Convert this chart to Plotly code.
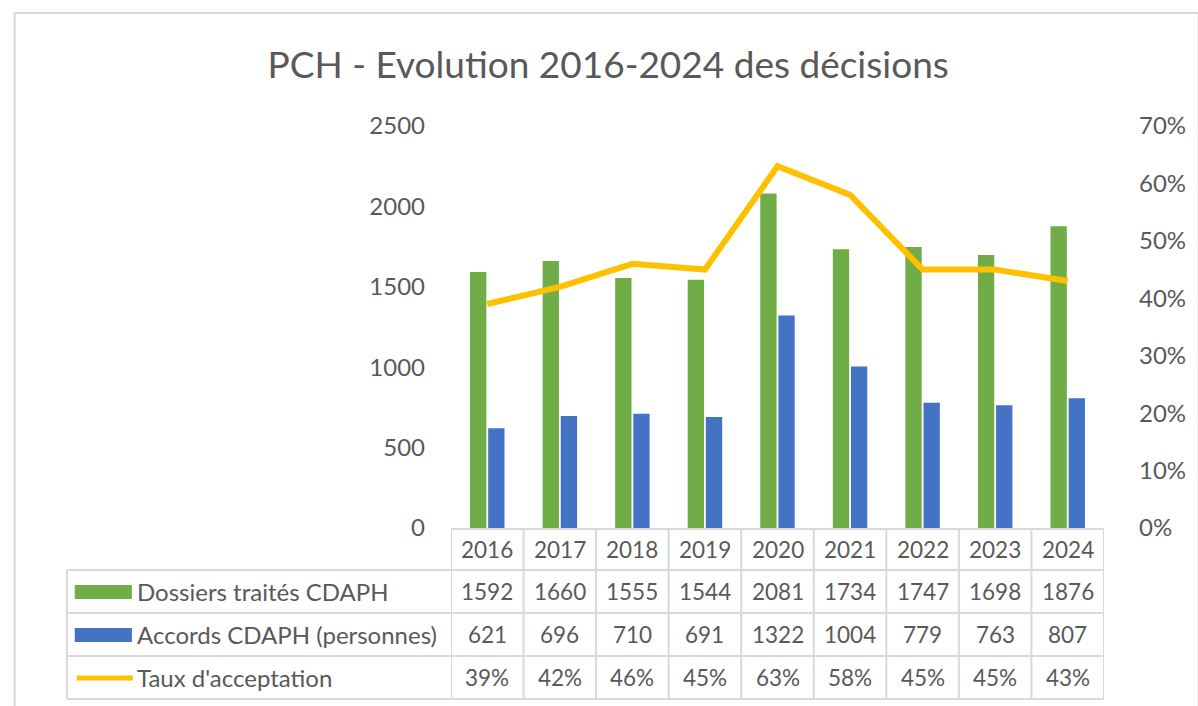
import plotly.graph_objects as go

years = ["2016", "2017", "2018", "2019", "2020", "2021", "2022", "2023", "2024"]
dossiers = [1592, 1660, 1555, 1544, 2081, 1734, 1747, 1698, 1876]
accords = [621, 696, 710, 691, 1322, 1004, 779, 763, 807]
taux = [0.39, 0.42, 0.46, 0.45, 0.63, 0.58, 0.45, 0.45, 0.43]
series_names = ["Dossiers traités CDAPH", "Accords CDAPH (personnes)", "Taux d'acceptation"]
left_ticks = [0, 500, 1000, 1500, 2000, 2500]
right_ticks = [0, 0.1, 0.2, 0.3, 0.4, 0.5, 0.6, 0.7]

GREEN = "#70AD47"
BLUE = "#4472C4"
YELLOW = "#FFC000"
TEXT = "#595959"
GRID = "#D9D9D9"
FONT = "Lato"

W, H = 1198, 706
PL, PR, PT, PB = 451, 1114, 126, 528  # plot area in pixels


def px(x):
    return (x - PL) / (PR - PL)


def py(y):
    return (PB - y) / (PB - PT)


fig = go.Figure()
fig.add_trace(go.Bar(x=years, y=dossiers, name=series_names[0], marker=dict(color=GREEN, line=dict(width=0))))
fig.add_trace(go.Bar(x=years, y=accords, name=series_names[1], marker=dict(color=BLUE, line=dict(width=0))))
fig.add_trace(go.Scatter(x=years, y=taux, name=series_names[2], yaxis="y2", mode="lines",
                         line=dict(color=YELLOW, width=6)))

shapes = []
line_style = dict(color=GRID, width=2)
# outer chart frame
shapes.append(dict(type="rect", xref="paper", yref="paper", x0=px(8), x1=px(1210), y0=py(13), y1=py(720),
                   line=dict(color=GRID, width=2), layer="below"))
# table header top border
shapes.append(dict(type="line", xref="paper", yref="paper", x0=0, x1=1, y0=py(529), y1=py(529), line=line_style))
# row lines
for yy in [570, 613, 656, 699]:
    shapes.append(dict(type="line", xref="paper", yref="paper", x0=px(61), x1=1, y0=py(yy), y1=py(yy), line=line_style))
# left vertical line of label column
shapes.append(dict(type="line", xref="paper", yref="paper", x0=px(61), x1=px(61), y0=py(570), y1=py(699), line=line_style))
# column boundaries
for k in range(len(years) + 1):
    shapes.append(dict(type="line", xref="x", yref="paper", x0=k - 0.5, x1=k - 0.5, y0=py(529), y1=py(699), line=line_style))

# legend keys in table
shapes.append(dict(type="rect", xref="paper", yref="paper", x0=px(69), x1=px(127), y0=py(585), y1=py(599),
                   fillcolor=GREEN, line=dict(width=0)))
shapes.append(dict(type="rect", xref="paper", yref="paper", x0=px(69), x1=px(127), y0=py(628), y1=py(642),
                   fillcolor=BLUE, line=dict(width=0)))
shapes.append(dict(type="line", xref="paper", yref="paper", x0=px(71), x1=px(128), y0=py(678), y1=py(678),
                   line=dict(color=YELLOW, width=5)))

annotations = []
row_y = [py(549.5), py(591.5), py(634.5), py(677.5)]
cell_font = dict(family=FONT, size=22.5, color=TEXT)
label_font = dict(family=FONT, size=24, color=TEXT)
for i, yr in enumerate(years):
    annotations.append(dict(xref="x", yref="paper", x=i, y=row_y[0], text=yr, showarrow=False, font=cell_font,
                            xanchor="center", yanchor="middle"))
    annotations.append(dict(xref="x", yref="paper", x=i, y=row_y[1], text=str(dossiers[i]), showarrow=False,
                            font=cell_font, xanchor="center", yanchor="middle"))
    annotations.append(dict(xref="x", yref="paper", x=i, y=row_y[2], text=str(accords[i]), showarrow=False,
                            font=cell_font, xanchor="center", yanchor="middle"))
    annotations.append(dict(xref="x", yref="paper", x=i, y=row_y[3], text=f"{round(taux[i] * 100)}%", showarrow=False,
                            font=cell_font, xanchor="center", yanchor="middle"))
for j, name in enumerate(series_names):
    annotations.append(dict(xref="paper", yref="paper", x=px(130), y=row_y[j + 1], text=name, showarrow=False,
                            font=label_font, xanchor="left", yanchor="middle"))

fig.update_layout(
    width=W, height=H, autosize=False,
    margin=dict(l=PL, r=W - PR, t=PT, b=H - PB, pad=0),
    paper_bgcolor="white", plot_bgcolor="white",
    title=dict(text="PCH - Evolution 2016-2024 des décisions", x=0.5077, xanchor="center", y=1 - 65 / H,
               yanchor="middle", font=dict(family=FONT, size=37, color=TEXT)),
    showlegend=False,
    barmode="group", bargap=0.5, bargroupgap=0.1,
    xaxis=dict(type="category", showticklabels=False, showgrid=False, zeroline=False, showline=False,
               range=[-0.5, len(years) - 0.5]),
    yaxis=dict(range=[0, 2500], tickvals=left_ticks, ticktext=[str(v) for v in left_ticks], showgrid=False,
               zeroline=False, showline=False, ticks="", ticklabelstandoff=25,
               tickfont=dict(family=FONT, size=24, color=TEXT)),
    yaxis2=dict(range=[0, 0.7], overlaying="y", side="right", tickvals=right_ticks,
                ticktext=[f"{round(v * 100)}%" for v in right_ticks], showgrid=False, zeroline=False,
                showline=False, ticks="", ticklabelstandoff=34, tickfont=dict(family=FONT, size=24, color=TEXT)),
    shapes=shapes, annotations=annotations,
    font=dict(family=FONT, color=TEXT),
)

fig.write_html("out.html", config={"displayModeBar": False},
               post_script="document.body.style.margin='0';document.body.style.overflow='hidden';")
